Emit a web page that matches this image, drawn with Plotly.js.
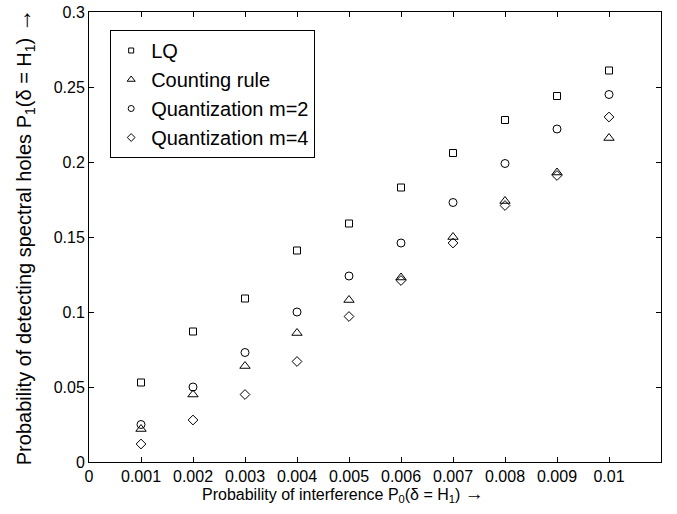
<!DOCTYPE html>
<html>
<head>
<meta charset="utf-8">
<script src="https://cdn.plot.ly/plotly-3.0.1.min.js"></script>
<style>html,body{margin:0;padding:0;background:#fff;}#chart{width:677px;height:514px;}</style>
</head>
<body>
<div id="chart"></div>
<script>
const pf = [0.001, 0.002, 0.003, 0.004, 0.005, 0.006, 0.007, 0.008, 0.009, 0.01];
const lq = [0.053, 0.087, 0.109, 0.141, 0.159, 0.183, 0.206, 0.228, 0.244, 0.261];
const counting = [0.022, 0.045, 0.064, 0.086, 0.108, 0.123, 0.150, 0.174, 0.193, 0.216];
const quant2 = [0.025, 0.050, 0.073, 0.100, 0.124, 0.146, 0.173, 0.199, 0.222, 0.245];
const quant4 = [0.012, 0.028, 0.045, 0.067, 0.097, 0.121, 0.146, 0.171, 0.191, 0.230];
const names = ['LQ', 'Counting rule', 'Quantization m=2', 'Quantization m=4'];
const xTicks = [0, 0.001, 0.002, 0.003, 0.004, 0.005, 0.006, 0.007, 0.008, 0.009, 0.01];
const xTickText = ['0', '0.001', '0.002', '0.003', '0.004', '0.005', '0.006', '0.007', '0.008', '0.009', '0.01'];
const yTicks = [0, 0.05, 0.1, 0.15, 0.2, 0.25, 0.3];
const yTickText = ['0', '0.05', '0.1', '0.15', '0.2', '0.25', '0.3'];
const xTitle = 'Probability of interference P<sub>0</sub>(δ = H<sub>1</sub>) <span style="font-size:19px">→</span>';
const yTitle = 'Probability of detecting spectral holes P<sub>1</sub>(δ = H<sub>1</sub>) <span style="font-size:24px">→</span>';

const series = [lq, counting, quant2, quant4];
const symbols = ['square-open', 'triangle-up-open', 'circle-open', 'diamond-open'];
const sizes = [7, 9, 8, 7.5];
const legendSizes = [5, 7, 6, 6];

const dataTraces = series.map((ys, i) => ({
  x: pf, y: ys, type: 'scatter', mode: 'markers', name: names[i],
  showlegend: false,
  marker: {symbol: symbols[i], size: sizes[i], color: '#000', line: {width: 1, color: '#000'}}
}));
const legendTraces = series.map((ys, i) => ({
  x: [null], y: [null], type: 'scatter', mode: 'markers', name: names[i],
  showlegend: true,
  marker: {symbol: symbols[i], size: legendSizes[i], color: '#000', line: {width: 1, color: '#000'}}
}));

const font = {family: 'Liberation Sans, Arial, sans-serif', color: '#000'};
const layout = {
  width: 677, height: 514,
  margin: {l: 89, r: 16, t: 12, b: 52},
  paper_bgcolor: '#fff', plot_bgcolor: '#fff',
  font: Object.assign({size: 16}, font),
  showlegend: true,
  legend: {
    x: 0.037, y: 0.96, xanchor: 'left', yanchor: 'top',
    bgcolor: '#fff', bordercolor: '#000', borderwidth: 1,
    font: Object.assign({size: 20}, font),
    traceorder: 'normal'
  },
  xaxis: {
    range: [0, 0.011], tickvals: xTicks, ticktext: xTickText,
    ticks: 'inside', ticklen: 5, tickcolor: '#000', showgrid: false, zeroline: false,
    showline: true, linecolor: '#000', linewidth: 1, mirror: 'ticks',
    tickfont: Object.assign({size: 16}, font)
  },
  yaxis: {
    range: [0, 0.3], tickvals: yTicks, ticktext: yTickText,
    ticks: 'inside', ticklen: 5, tickcolor: '#000', showgrid: false, zeroline: false,
    showline: true, linecolor: '#000', linewidth: 1, mirror: 'ticks',
    tickfont: Object.assign({size: 16}, font)
  },
  annotations: [
    {text: xTitle, xref: 'paper', yref: 'paper', x: 0.444, y: -0.071,
     xanchor: 'center', yanchor: 'middle', showarrow: false, font: Object.assign({size: 16}, font)},
    {text: yTitle, xref: 'paper', yref: 'paper', x: -0.115, y: 0.5, textangle: -90,
     xanchor: 'center', yanchor: 'middle', showarrow: false, font: Object.assign({size: 20}, font)}
  ]
};
Plotly.newPlot('chart', dataTraces.concat(legendTraces), layout, {displayModeBar: false, staticPlot: true});
</script>
</body>
</html>
